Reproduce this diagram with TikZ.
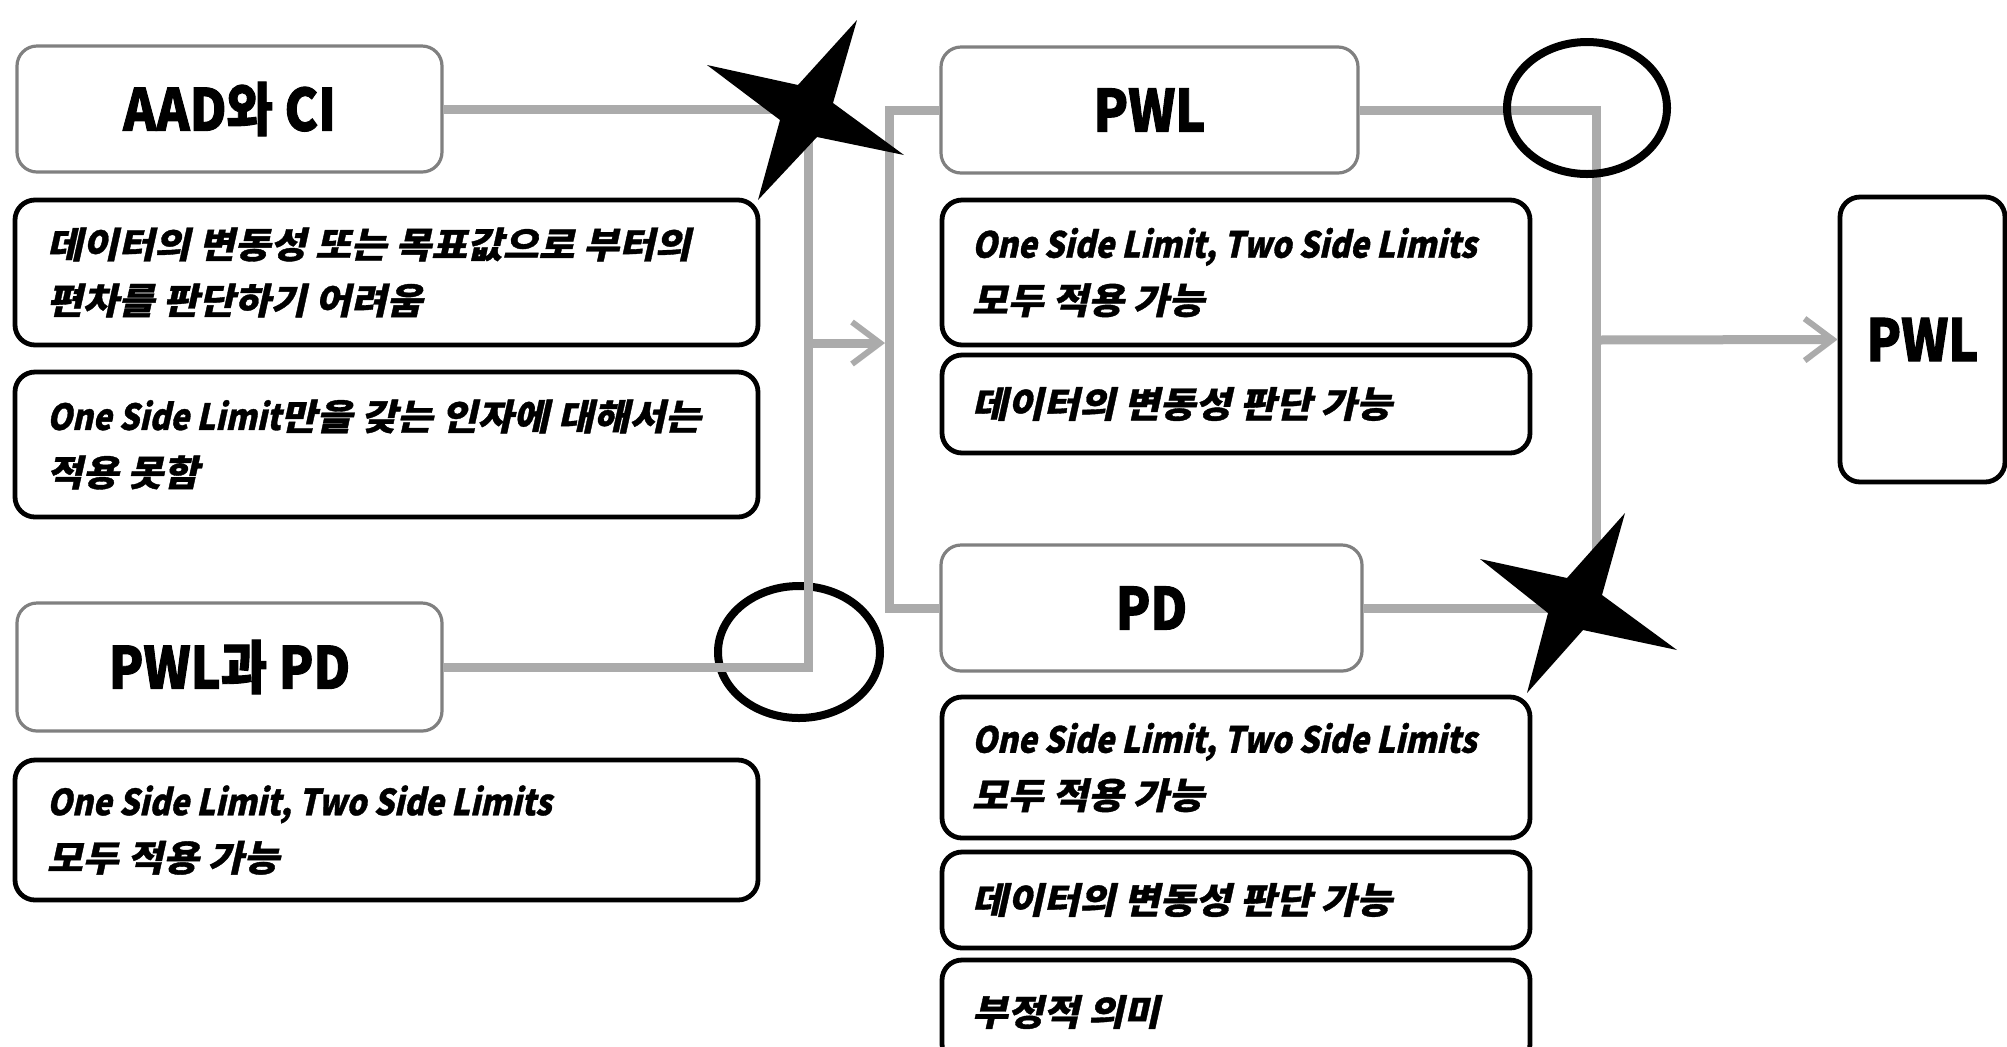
\documentclass[tikz,border=0pt]{standalone}
\usepackage{fontspec}
\usetikzlibrary{arrows.meta,fit}
\newfontfamily\krT{Noto Sans CJK KR}[FakeStretch=0.87,FakeBold=1.6]
\newfontfamily\krB{Noto Sans CJK KR}[FakeSlant=0.22,FakeStretch=1.08,FakeBold=1.0]
\newfontfamily\krL{Noto Sans CJK KR}[FakeSlant=0.22,FakeStretch=0.88,FakeBold=1.0]
\newcommand{\lat}[1]{{\krL\bfseries #1}}
\begin{document}
\begin{tikzpicture}[x=0.5pt,y=-0.5pt,
  tbox/.style={draw=black!50, line width=1.6pt, rounded corners=10pt, inner sep=0pt, fill=white},
  cbox/.style={draw=black, line width=2.4pt, rounded corners=10pt, inner sep=0pt, fill=white},
  ttext/.style={font=\krT\bfseries\fontsize{29}{34}\selectfont, inner sep=0pt},
  btext/.style={font=\krB\bfseries\fontsize{18}{28}\selectfont, align=left, inner sep=0pt, anchor=west},
  conn/.style={draw=black!33, line width=4.5pt},
  arr/.style={conn, -{Straight Barb[length=14pt,width=21pt,line width=3pt]}},
  ring/.style={draw=black, line width=4pt},
  starshape/.style={fill=black}
]
\useasboundingbox (0,0) rectangle (2007,1046);
\clip (0,0) rectangle (2007,1046);

% ring under the left connectors
\draw[ring] (799,652) ellipse [x radius=81, y radius=66];

% boxes
\node[tbox, fit={(17,46)(442,172)}] (t1) {};
\node[ttext] (t1t) at (t1.center) {AAD와 CI};
\node[cbox, fit={(15,200)(758,345)}] (b1) {};
\node[btext] (b1t) at ([xshift=17pt]b1.west) {데이터의 변동성 또는 목표값으로 부터의\\편차를 판단하기 어려움};
\node[cbox, fit={(15,372)(758,517)}] (b2) {};
\node[btext] (b2t) at ([xshift=17pt]b2.west) {\lat{One Side Limit}만을 갖는 인자에 대해서는\\적용 못함};
\node[tbox, fit={(17,603)(442,731)}] (t2) {};
\node[ttext] (t2t) at (t2.center) {PWL과 PD};
\node[cbox, fit={(15,760)(758,900)}] (b3) {};
\node[btext] (b3t) at ([xshift=17pt]b3.west) {\lat{One Side Limit, Two Side Limits}\\모두 적용 가능};

\node[tbox, fit={(941,47)(1358,173)}] (t3) {};
\node[ttext] (t3t) at (t3.center) {PWL};
\node[cbox, fit={(942,200)(1530,345)}] (b4) {};
\node[btext] (b4t) at ([xshift=16pt]b4.west) {\lat{One Side Limit, Two Side Limits}\\모두 적용 가능};
\node[cbox, fit={(942,355)(1530,453)}] (b5) {};
\node[btext] (b5t) at ([xshift=16pt]b5.west) {데이터의 변동성 판단 가능};

\node[tbox, fit={(941,545)(1362,671)}] (t4) {};
\node[ttext] (t4t) at (t4.center) {PD};
\node[cbox, fit={(942,697)(1530,838)}] (b6) {};
\node[btext] (b6t) at ([xshift=16pt]b6.west) {\lat{One Side Limit, Two Side Limits}\\모두 적용 가능};
\node[cbox, fit={(942,852)(1530,948)}] (b7) {};
\node[btext] (b7t) at ([xshift=16pt]b7.west) {데이터의 변동성 판단 가능};
\node[cbox, fit={(942,960)(1530,1064)}] (b8) {};
\node[btext] (b8t) at ([xshift=16pt]b8.west) {부정적 의미};

\node[cbox, fit={(1840,197)(2005,482)}] (r) {};
\node[ttext] (rt) at (r.center) {PWL};

% connector junctions
\coordinate (j1) at (808,343);
\coordinate (j2) at (889,343);
\coordinate (j3) at (1596,340);

\draw[conn] (t1.east) -- (t1.east -| j1) -- (t2.east -| j1) -- (t2.east);
\draw[conn] (t3.west) -- (t3.west -| j2) -- (t4.west -| j2) -- (t4.west);
\draw[conn] (t3.east) -- (t3.east -| j3) -- (t4.east -| j3) -- (t4.east);
\draw[arr] (j1) -- ([xshift=-2pt]j2);
\draw[arr] (j3) -- (r.west);

% ring over the right connectors
\draw[ring] (1587,108) ellipse [x radius=80, y radius=66];

% stars
\fill[starshape] (857,20) -- (833,103) -- (904,155) -- (817,137) -- (758,200) -- (780,120) -- (707,65) -- (798,85) -- cycle;
\fill[starshape] (1625,513) -- (1602,595) -- (1677,650) -- (1583,630) -- (1527,693) -- (1548,613) -- (1480,559) -- (1567,578) -- cycle;
\end{tikzpicture}
\end{document}
